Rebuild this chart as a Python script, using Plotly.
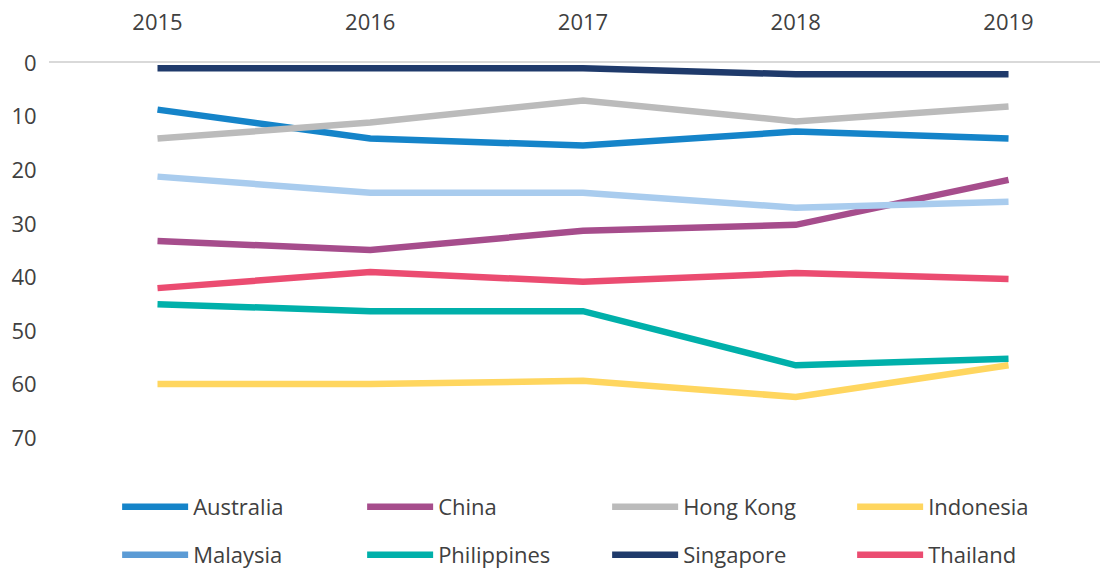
import plotly.graph_objects as go

years = [2015, 2016, 2017, 2018, 2019]
countries = ["Australia", "China", "Hong Kong", "Indonesia",
             "Malaysia", "Philippines", "Singapore", "Thailand"]

australia = [8.7, 14.1, 15.4, 12.8, 14.1]
china = [33.2, 34.9, 31.3, 30.2, 21.8]
hong_kong = [14.1, 11.1, 7.0, 10.9, 8.1]
indonesia = [59.9, 59.9, 59.3, 62.3, 56.4]
malaysia = [21.2, 24.2, 24.2, 27.0, 25.9]
philippines = [45.0, 46.3, 46.3, 56.4, 55.2]
singapore = [1.0, 1.0, 1.0, 2.1, 2.1]
thailand = [42.0, 39.0, 40.8, 39.2, 40.3]

y_ticks = [0, 10, 20, 30, 40, 50, 60, 70]

series = [australia, china, hong_kong, indonesia, malaysia, philippines, singapore, thailand]
line_colors = ["#1584C9", "#A64D8C", "#BBBBBB", "#FFD65F",
               "#A9CCEE", "#00B0AA", "#1F3A6B", "#EB4C71"]
legend_colors = ["#1584C9", "#A64D8C", "#BBBBBB", "#FFD65F",
                 "#5B9BD5", "#00B0AA", "#1F3A6B", "#EB4C71"]

FONT = "Open Sans"
TXT = "#404040"

fig = go.Figure()

# the lines themselves
for name, vals, col in zip(countries, series, line_colors):
    fig.add_trace(go.Scatter(
        x=years, y=vals, mode="lines", name=name,
        line=dict(color=col, width=6.5),
        showlegend=False,
    ))

# legend entries: first four in the top row, the rest in a second legend
for i, (name, col) in enumerate(zip(countries, legend_colors)):
    fig.add_trace(go.Scatter(
        x=[None], y=[None], mode="lines", name=name,
        line=dict(color=col, width=6.5),
        legend="legend" if i < 4 else "legend2",
    ))

# container refs so the legends don't eat into the plot area
legend_style = dict(
    orientation="h",
    xref="container",
    yref="container",
    xanchor="left",
    yanchor="top",
    x=0.106,
    entrywidth=164,
    entrywidthmode="pixels",
    itemwidth=66,
    font=dict(family=FONT, size=22, color=TXT),
    bgcolor="rgba(0,0,0,0)",
)

fig.update_layout(
    width=1105,
    height=569,
    margin=dict(l=49, r=5, t=63, b=104),
    paper_bgcolor="white",
    plot_bgcolor="white",
    font=dict(family=FONT, size=22, color=TXT),
    legend=dict(legend_style, y=0.146),
    legend2=dict(legend_style, y=0.0615),
)

fig.update_xaxes(
    range=[2014.49, 2019.43],
    tickvals=years,
    side="top",
    showgrid=False,
    zeroline=False,
    showline=True,
    linecolor="#D9D9D9",
    linewidth=1.5,
    ticks="outside",
    ticklen=22,
    tickcolor="white",
    tickfont=dict(family=FONT, size=22, color=TXT),
)

fig.update_yaxes(
    range=[75, 0],
    tickvals=y_ticks,
    showgrid=False,
    zeroline=False,
    ticks="outside",
    ticklen=7,
    tickcolor="white",
    tickfont=dict(family=FONT, size=22, color=TXT),
)

# drop the default body margin so the figure fills the window exactly
fig.write_html(
    "out.html",
    config={"displayModeBar": False},
    post_script="document.body.style.margin='0';",
)
